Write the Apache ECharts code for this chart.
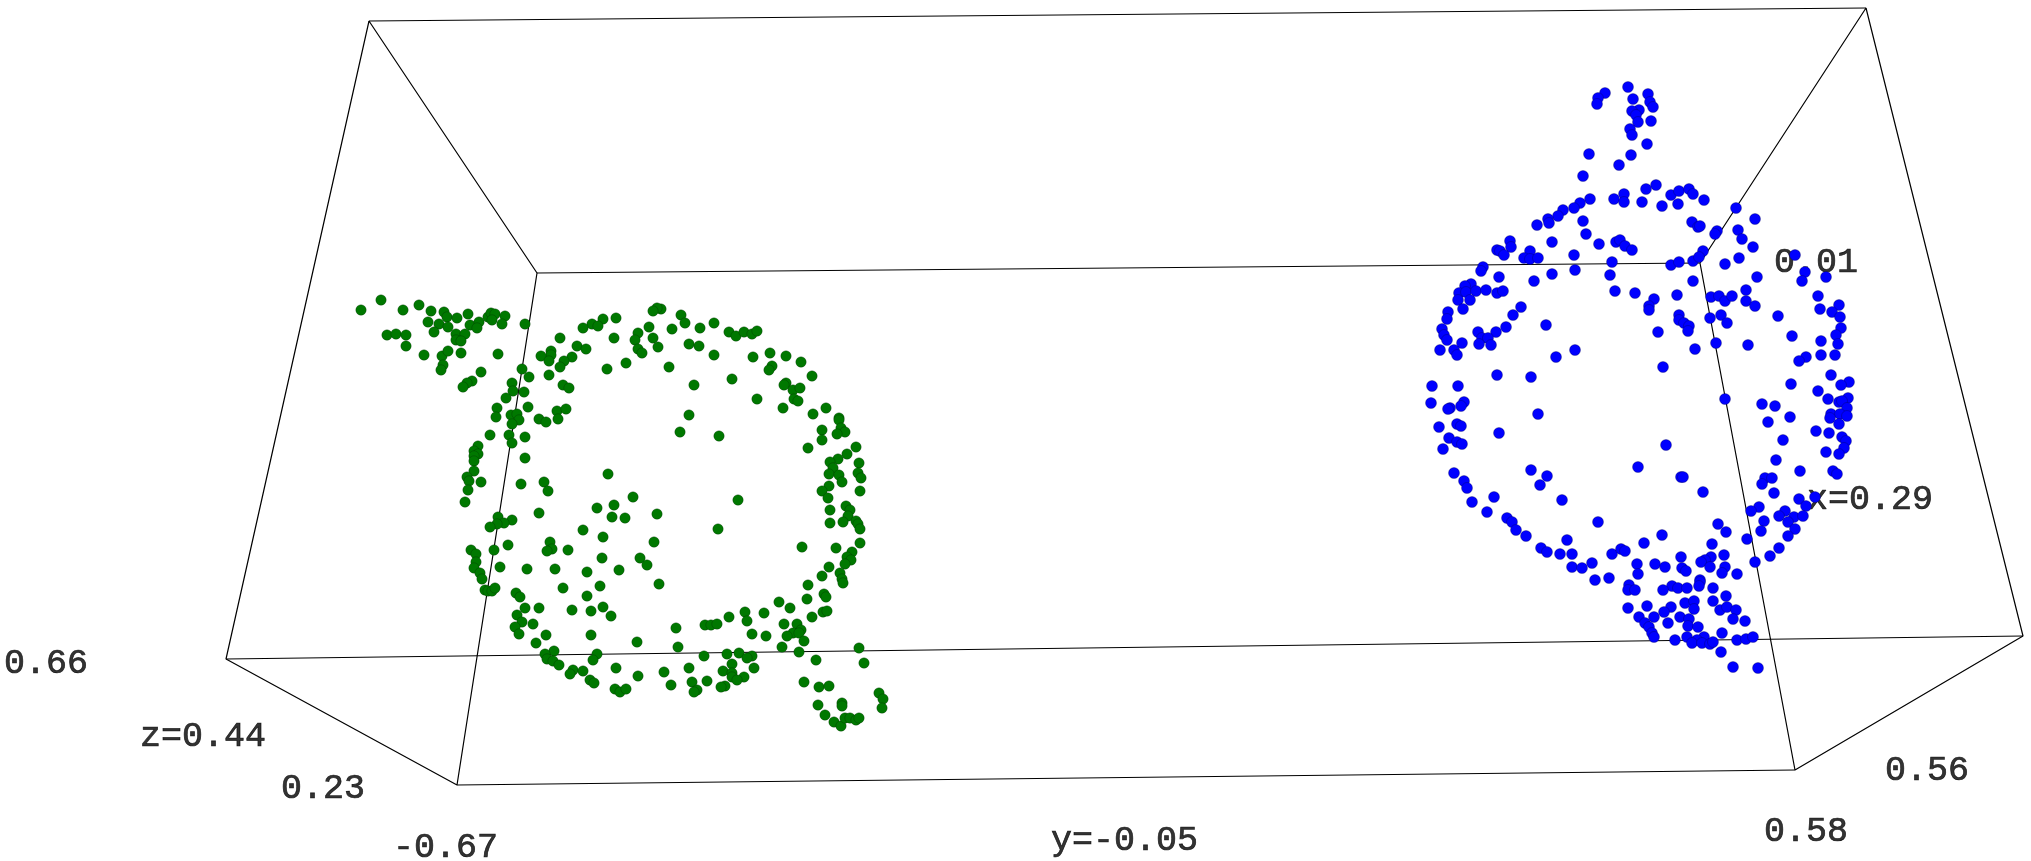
<!DOCTYPE html>
<html>
<head>
<meta charset="utf-8">
<style>html,body{margin:0;padding:0;background:#fff}#c{width:2031px;height:861px}</style>
<script src="https://cdn.jsdelivr.net/npm/echarts@6/dist/echarts.min.js"></script>
</head>
<body>
<div id="c"></div>
<script>
// Projected positions (plane units: 0-2031 across, 0-861 down)
const greenPoints = [
[361,310],[381,300],[403,310],[419,305],[431,311],[444,312],[447,317],[428,322],[439,324],[448,327],[457,318],[468,314],[434,332],[456,334],[465,334],[456,340],[461,341],[470,325],[479,322],[477,328],[488,317],[491,313],[495,314],[492,320],[505,316],[502,324],[525,324],[387,335],[396,334],[406,335],[406,346],[424,355],[442,356],[448,351],[461,353],[498,354],[443,365],[441,370],[481,372],[472,381],[467,383],[463,387],[522,369],[529,377],[512,383],[513,391],[524,392],[506,398],[497,408],[528,407],[496,417],[511,415],[517,414],[519,420],[512,424],[490,435],[509,435],[525,437],[512,443],[478,446],[474,451],[478,454],[474,456],[474,461],[525,458],[474,471],[467,477],[469,481],[481,482],[468,490],[521,484],[544,482],[548,491],[608,474],[633,497],[465,502],
[616,318],[603,319],[592,324],[598,326],[583,328],[560,338],[614,338],[577,346],[586,349],[551,351],[551,355],[541,356],[549,361],[572,357],[564,361],[560,367],[549,375],[607,369],[626,363],[563,385],[569,388],[557,411],[566,409],[539,419],[546,422],[558,419],[638,333],[635,340],[638,349],[642,353],
[661,309],[657,308],[653,311],[681,315],[685,323],[649,327],[672,329],[700,328],[714,323],[729,332],[736,336],[744,332],[752,334],[757,331],[653,338],[658,347],[689,344],[699,346],[714,355],[753,357],[770,353],[786,356],[801,362],[772,366],[769,370],[812,376],[669,367],[694,385],[732,379],[786,383],[784,385],[793,390],[800,388],[794,399],[798,401],[757,399],[783,408],[813,414],[826,408],[839,418],[839,420],[689,415],[680,432],[719,436],[841,428],[845,432],[837,434],[822,430],[822,440],[808,448],[856,447],[847,454],[838,459],[830,462],[859,463],[833,468],[829,474],[839,475],[858,473],[861,478],[842,482],[829,486],[822,491],[860,491],[828,498],[738,500],[846,506],[830,510],[850,510],
[539,513],[597,508],[614,505],[612,517],[625,518],[657,514],[583,530],[603,537],[654,542],[498,517],[512,520],[504,523],[497,524],[490,527],[508,545],[471,550],[476,554],[494,550],[550,542],[552,549],[547,551],[568,550],[476,562],[474,568],[500,567],[480,573],[482,579],[527,569],[555,569],[587,572],[602,558],[640,558],[647,565],[619,570],[600,586],[563,588],[659,584],[485,590],[488,591],[492,591],[495,588],[516,593],[520,597],[587,596],[525,608],[539,608],[572,610],[591,611],[603,607],[611,616],[517,615],[522,622],[533,624],[515,627],[519,634],[546,635],[591,635],[637,642],[536,643],[554,651],[545,654],[547,659],[553,661],[559,665],[597,654],[593,660],[573,670],[570,674],[583,671],[616,668],[638,676],[590,680],[594,683],[615,689],[620,692],[626,689],
[718,529],[848,516],[830,523],[843,522],[856,521],[858,524],[860,529],[860,543],[802,547],[836,548],[852,552],[847,557],[851,560],[845,564],[829,567],[840,573],[822,576],[842,579],[843,583],[808,585],[824,594],[826,597],[807,599],[779,602],[790,608],[823,612],[827,611],[812,617],[745,612],[764,613],[729,617],[747,621],[784,624],[797,624],[801,630],[793,633],[787,636],[799,633],[804,641],[705,625],[711,625],[717,624],[676,628],[752,634],[766,636],[678,647],[782,647],[799,652],[859,648],[704,656],[727,654],[739,653],[752,656],[747,658],[816,660],[864,663],[732,664],[754,668],[689,668],[664,672],[723,671],[732,673],[732,677],[744,677],[737,680],[692,682],[707,681],[671,685],[697,690],[694,692],[725,686],[721,687],[804,682],[819,687],[829,686],[879,693],[883,699],[882,708],[842,703],[842,706],[818,705],[825,715],[834,722],[841,726],[845,718],[850,718],[856,720],[859,718]
];
const bluePoints = [
[1628,87],[1648,94],[1605,93],[1598,98],[1597,104],[1633,99],[1650,102],[1653,107],[1639,110],[1632,111],[1636,115],[1638,122],[1651,121],[1630,129],[1632,135],[1647,144],[1589,154],[1631,155],[1619,165],[1583,176],[1656,185],[1646,189],[1624,194],[1614,199],[1624,202],[1642,202],[1590,199],[1580,203],[1574,208],[1563,210],[1558,216],[1548,219],[1549,223],[1537,225],[1583,221],[1586,234],[1599,244],[1552,242],[1616,242],[1620,240],[1625,246],[1632,250],[1510,241],[1511,247],[1497,250],[1500,251],[1504,255],[1530,251],[1524,258],[1530,259],[1538,258],[1574,255],[1612,262],[1483,267],[1481,271],[1575,270],[1552,274],[1499,277],[1610,275],[1534,281],[1471,284],[1465,286],[1459,293],[1466,292],[1476,291],[1486,290],[1497,293],[1503,291],[1458,300],[1470,300],[1615,291],[1635,293],[1654,299],[1649,306],[1521,307],[1463,309],[1448,312],[1677,295],[1693,281],[1671,265],[1679,262],[1693,261],[1662,206],[1671,195],[1679,191],[1689,189],[1693,194],[1678,204],[1692,222],[1698,227],
[1704,200],[1736,208],[1755,219],[1700,226],[1717,231],[1715,234],[1738,230],[1742,239],[1753,247],[1703,251],[1699,257],[1739,258],[1725,264],[1795,255],[1805,272],[1802,281],[1757,277],[1826,277],[1818,296],[1649,310],[1711,297],[1719,296],[1725,301],[1732,296],[1746,290],[1746,301],[1755,306],[1820,309],[1839,305],[1832,312],[1840,317],[1841,328],[1836,335],[1838,344],[1821,341],[1792,336],[1778,316],[1710,318],[1721,315],[1727,323],[1679,315],[1679,320],[1684,323],[1689,326],[1688,331],[1658,332],[1716,343],[1748,345],[1695,349],[1821,355],[1835,355],[1806,357],[1799,361],[1663,367],
[1513,315],[1447,319],[1442,329],[1444,335],[1447,340],[1506,327],[1496,332],[1478,332],[1482,338],[1488,338],[1479,344],[1491,345],[1546,325],[1462,343],[1440,350],[1454,350],[1457,355],[1575,350],[1556,357],[1497,375],[1531,377],[1432,386],[1458,386],[1431,403],[1464,402],[1461,406],[1450,408],[1448,409],[1538,414],[1457,424],[1461,426],[1439,427],[1499,433],[1449,438],[1457,442],[1462,444],[1443,449],[1454,473],[1531,470],[1547,476],[1540,485],[1464,481],[1467,488],[1472,502],[1494,497],[1562,500],[1487,512],[1507,518],[1512,522],[1598,522],[1638,467],[1666,445],[1681,477],
[1831,375],[1849,382],[1841,385],[1791,384],[1818,391],[1828,399],[1848,398],[1839,402],[1842,401],[1847,408],[1762,404],[1775,406],[1725,399],[1790,417],[1831,414],[1840,414],[1847,416],[1830,418],[1768,422],[1839,424],[1816,431],[1829,433],[1842,437],[1846,441],[1783,440],[1844,448],[1826,452],[1839,454],[1776,460],[1833,471],[1837,474],[1800,471],[1683,477],[1765,478],[1772,478],[1762,484],[1774,493],[1703,492],[1799,499],[1815,497],[1806,506],[1759,507],[1751,511],[1785,511],[1779,516],[1794,517],[1803,516],[1788,522],[1764,521],[1795,529],[1718,524],[1726,532],[1761,531],[1662,535],[1788,536],[1747,539],[1644,543],[1712,544],[1779,548],[1770,556],[1755,562],[1681,557],[1724,555],[1711,557],[1705,560],[1701,562],[1710,567],[1725,567],[1655,564],[1665,567],[1682,568],[1686,571],[1722,573],[1737,574],[1700,580],
[1567,540],[1572,554],[1612,554],[1621,549],[1625,551],[1560,554],[1572,567],[1582,568],[1592,563],[1595,580],[1609,578],[1637,564],[1638,574],[1629,585],[1628,590],[1635,590],[1672,586],[1678,588],[1687,588],[1663,590],[1700,582],[1699,586],[1713,588],[1726,596],[1628,608],[1647,606],[1671,607],[1664,612],[1685,603],[1694,601],[1694,609],[1713,601],[1720,610],[1727,607],[1736,610],[1733,619],[1745,621],[1639,617],[1654,617],[1645,623],[1649,627],[1668,623],[1680,617],[1689,619],[1688,626],[1698,627],[1652,633],[1654,637],[1722,633],[1687,637],[1704,637],[1697,640],[1675,640],[1692,643],[1702,643],[1710,644],[1713,642],[1737,640],[1746,639],[1753,637],[1721,652],[1733,667],[1758,668],
[1516,530],[1526,536],[1541,548],[1547,552]
];
const boxTopOuter = [[369,21],[1866,8]];
const boxBottomOuter = [[226,659],[2023,636]];
const boxTopInner = [[537,273],[1700,263]];
const boxBottomInner = [[457,785],[1795,770]];
const boxEdgeA = [[369,21],[537,273],[457,785],[226,659],[369,21]];
const boxEdgeB = [[1866,8],[1700,263],[1795,770],[2023,636],[1866,8]];
const tickLabels = [
  {text:'0.66', at:[4,664]},
  {text:'z=0.44', at:[140,737]},
  {text:'0.23', at:[281,789]},
  {text:'-0.67', at:[393,848]},
  {text:'y=-0.05', at:[1051,841]},
  {text:'0.58', at:[1764,832]},
  {text:'0.56', at:[1885,771]},
  {text:'0.01', at:[1774,263]},
  {text:'x=0.29', at:[1807,500]}
];

const boxSeries = [boxTopOuter, boxBottomOuter, boxTopInner, boxBottomInner, boxEdgeA, boxEdgeB].map(d => ({
  type:'line', data:d, symbol:'none', silent:true, z:2, animation:false,
  lineStyle:{color:'#000', width:1.2}
}));

const chart = echarts.init(document.getElementById('c'), null, {renderer:'canvas'});
chart.setOption({
  backgroundColor:'#fff',
  animation:false,
  grid:{left:0,right:0,top:0,bottom:0},
  xAxis:{type:'value',min:0,max:2031,show:false},
  yAxis:{type:'value',min:0,max:861,inverse:true,show:false},
  series:[
    ...boxSeries,
    {type:'scatter',z:1,silent:true,symbolSize:0,
     data:tickLabels.map(t=>({value:t.at,label:{formatter:t.text}})),
     label:{show:true,position:'right',distance:0,color:'#000',fontFamily:'"Liberation Mono",monospace',fontSize:35,textBorderColor:'#000',textBorderWidth:0.7}},
    {type:'scatter',z:3,name:'green',data:greenPoints,symbol:'circle',symbolSize:10.5,
     itemStyle:{color:'#007800',borderColor:'rgba(0,40,0,0.6)',borderWidth:0.5,opacity:1}},
    {type:'scatter',z:3,name:'blue',data:bluePoints,symbol:'circle',symbolSize:11,
     itemStyle:{color:'#0000ff',borderColor:'rgba(0,0,60,0.6)',borderWidth:0.5,opacity:1}}
  ]
});
</script>
</body>
</html>
